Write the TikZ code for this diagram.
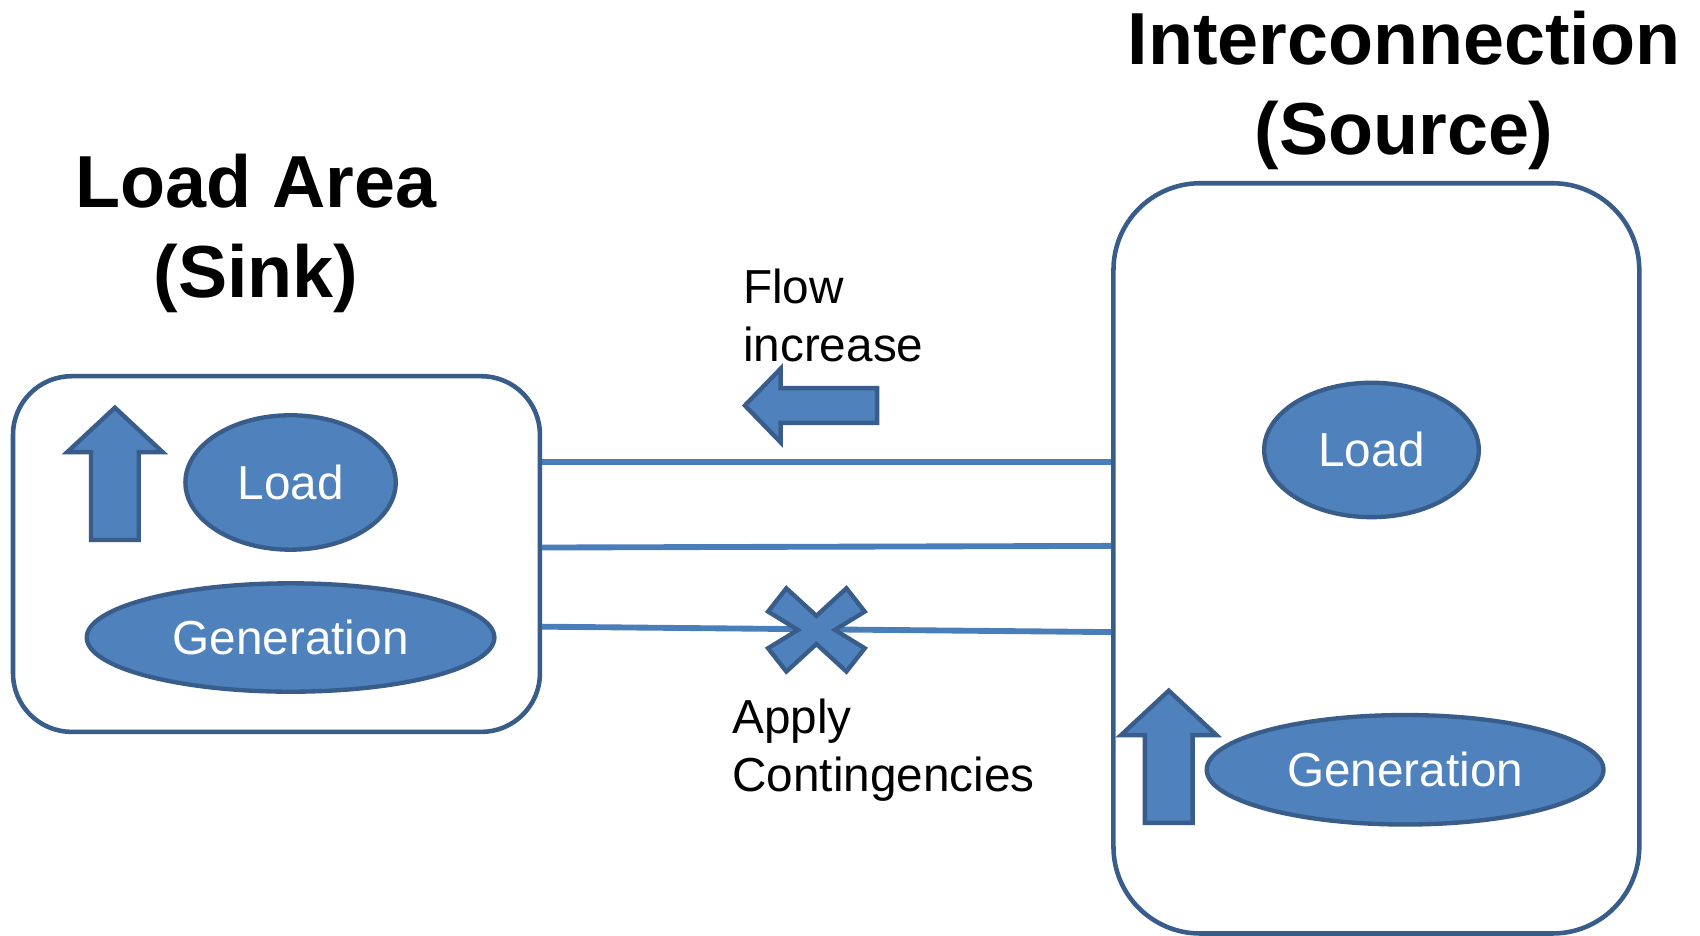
\documentclass[tikz,border=0pt]{standalone}
\usepackage{fontspec}
\setmainfont{Liberation Sans}
\usetikzlibrary{shapes.geometric}
\definecolor{shapefill}{HTML}{4F81BD}
\definecolor{shapeline}{HTML}{385D8A}
\definecolor{tieline}{HTML}{4A7EBB}

\begin{document}
\begin{tikzpicture}[x=0.5pt,y=-0.5pt]
	\tikzset{
		area node/.style={rectangle, draw=shapeline, line width=2.1pt, fill=white},
		part node/.style={ellipse, draw=shapeline, line width=2pt, fill=shapefill, inner sep=0pt, text=white, font=\fontsize{22}{26}\selectfont},
		title node/.style={align=center, font=\fontsize{34}{41.5}\selectfont\bfseries},
		note node/.style={align=left, anchor=west, inner sep=0pt, font=\fontsize{22}{26.5}\selectfont},
		tie/.style={line width=2.7pt, tieline},
		block/.style={draw=shapeline, line width=2pt, fill=shapefill},
		uparrow/.pic={\draw[block] (0,0) -- (44,41) -- (22,41) -- (22,122) -- (-22,122) -- (-22,41) -- (-44,41) -- cycle;}
	}
	\useasboundingbox (0,0) rectangle (1568,863);
	% Areas
	\node (sink) at (255,511) [area node, rounded corners=27pt, minimum width=243pt, minimum height=164pt] {};
	\node (source) at (1269.5,515) [area node, rounded corners=40pt, minimum width=242.5pt, minimum height=346pt] {};
	\node (sinktitle) at (236,215) [title node] {Load Area\\(Sink)};
	\node (sourcetitle) at (1295,83) [title node] {Interconnection\\(Source)};
	
	% Load and generation in each area
	\node (sinkload) at (268,445) [part node, minimum width=97pt, minimum height=62pt] {Load};
	\node (sinkgen) at (268,588) [part node, minimum width=188pt, minimum height=50pt] {Generation};
	\node (sourceload) at (1265,415) [part node, minimum width=99pt, minimum height=62pt] {Load};
	\node (sourcegen) at (1296,710) [part node, minimum width=183pt, minimum height=50.5pt] {Generation};
	\pic at (106,376) {uparrow};
	\pic at (1078,637) {uparrow};
	
	% Tie lines
	\draw[tie] (sink.east |- 0,426) -- (source.west |- 0,426);
	\draw[tie] (sink.east |- 0,505) -- (source.west |- 0,503.5);
	\draw[tie] (sink.east |- 0,578) -- (source.west |- 0,583);
	
	% Flow and contingency marks
	\draw[block] (687,374) -- (720,340) -- (720,358) -- (809,358) -- (809,390) -- (720,390) -- (720,408) -- cycle;
	\draw[block, shift={(753,581)}] (0,-13) -- (27.7,-38.4) -- (44.6,-16.9) -- (17,0) -- (44.6,16.9) -- (27.7,38.4) -- (0,13) -- (-27.7,38.4) -- (-44.6,16.9) -- (-17,0) -- (-44.6,-16.9) -- (-27.7,-38.4) -- cycle;
	\node (flow) at (685,291) [note node] {Flow\\increase};
	\node (contingency) at (675,692) [note node] {Apply\\Contingencies};
\end{tikzpicture}
\end{document}
